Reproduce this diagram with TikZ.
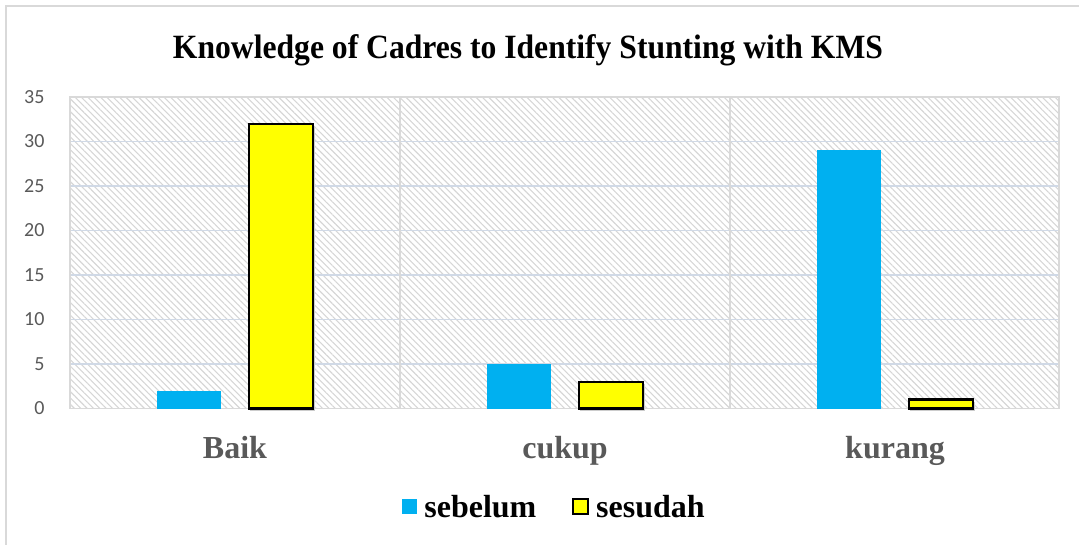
\documentclass[tikz,border=0pt]{standalone}
\usepackage{fontspec}
\setmainfont{Liberation Serif}
\newfontfamily\axisfont{Carlito}
\usetikzlibrary{patterns.meta,positioning}
\definecolor{before}{HTML}{00B0F0}
\definecolor{after}{HTML}{FFFF00}
\definecolor{axistext}{HTML}{595959}
\definecolor{grid}{HTML}{D0D9E6}
\definecolor{frame}{HTML}{D9D9D9}
\definecolor{hatch}{HTML}{D6D6D6}

\begin{document}
\begin{tikzpicture}[x=1pt,y=-1pt]
\useasboundingbox (0,0) rectangle (1079,544);
% outer chart frame
\draw[frame,line width=1.5] (6,6) rectangle (1100,560);
% plot area, 0 sits at y=408.5 and 35 at y=97
\pattern[pattern={Lines[angle=-45,distance=4.5pt,line width=1.1pt]},pattern color=hatch] (70,97) rectangle (1059,408.5);
\foreach \v in {5,10,...,35}
  \draw[grid,line width=1.6] (70,408.5-8.9*\v) -- (1059,408.5-8.9*\v);
\foreach \xx in {400,730}
  \draw[frame,line width=1.5] (\xx,97) -- (\xx,408.5);
\draw[frame,line width=1.5] (70,97) rectangle (1059,408.5);
% y ticks
\foreach \v in {0,5,...,35}
  \node[anchor=east,text=axistext,font=\axisfont\fontsize{20}{20}\selectfont] (tick\v) at (48,408.5-8.9*\v) {\v};
% bars: group centre / sebelum / sesudah
\foreach \c/\b/\a/\lab in {235/2/32/Baik, 565/5/3/cukup, 895/29/1/kurang} {
  \fill[before] (\c-78,408.5) rectangle (\c-14,408.5-8.9*\b);
  \fill[black!20] (\c+15,410.5) rectangle (\c+80,408.5-8.9*\a+2);
  \draw[fill=after,line width=2.4] (\c+14,408.5) rectangle (\c+78,408.5-8.9*\a);
  \node[anchor=base,text=axistext,font=\bfseries\fontsize{32}{32}\selectfont] (cat\lab) at (\c,458) {\lab};
}
% title
\node[anchor=base,font=\bfseries\fontsize{34}{34}\selectfont] (title) at (528,58) {\scalebox{0.93}[1]{Knowledge of Cadres to Identify Stunting with KMS}};
% legend
\node[fill=before,minimum size=15,inner sep=0] (keybefore) at (409.5,506.5) {};
\node[right=5pt of keybefore,font=\bfseries\fontsize{32}{32}\selectfont,inner sep=2] (legbefore) {sebelum};
\node[draw=black,fill=after,line width=2,minimum size=15,inner sep=0] (keyafter) at (580.5,506.5) {};
\node[right=5pt of keyafter,font=\bfseries\fontsize{32}{32}\selectfont,inner sep=2] (legafter) {sesudah};
\end{tikzpicture}
\end{document}
